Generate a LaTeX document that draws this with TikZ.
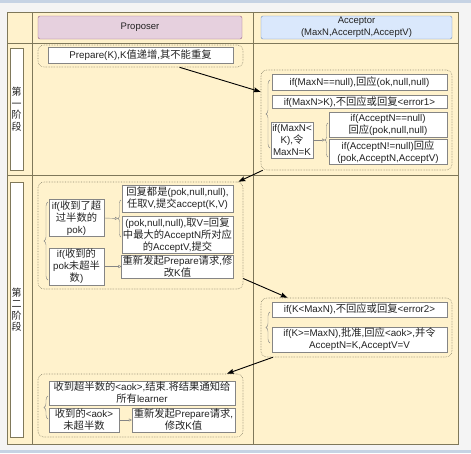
\documentclass[tikz,border=0pt]{standalone}
\usepackage{fontspec}
\setmainfont{Liberation Sans}
\newfontfamily\cjkf[Scale=1.05]{Noto Sans CJK SC}
\newcommand\zh[1]{{\cjkf #1}}
\usetikzlibrary{arrows.meta,decorations.pathreplacing,calc}
\definecolor{tablefill}{HTML}{FFF2CC}
\definecolor{tableline}{HTML}{7F785A}
\definecolor{boxgray}{HTML}{858585}
\definecolor{grpgray}{HTML}{8F8A70}
\definecolor{textc}{HTML}{222222}
\definecolor{pinkfill}{HTML}{E6D0DE}
\definecolor{pinkline}{HTML}{996185}
\definecolor{bluefill}{HTML}{DAE8FC}
\definecolor{blueline}{HTML}{6C8EBF}
\definecolor{bggray}{HTML}{F4F4F4}
\definecolor{strip}{HTML}{C6D3E4}
\begin{document}
\begin{tikzpicture}[x=1pt,y=-1pt,
  box/.style={draw=boxgray, fill=white, align=center, inner sep=1pt,
    font=\fontsize{9.8}{12}\selectfont, text=textc},
  grp/.style={draw=grpgray, densely dotted, line width=0.6pt, rounded corners=6pt, inner sep=0pt},
  hdr/.style={rounded corners=2pt, align=center, inner sep=1pt,
    font=\fontsize{9.5}{12}\selectfont, text=textc},
  phase/.style={draw=tableline, fill=white, align=center, inner sep=0pt,
    minimum width=13pt, font=\fontsize{9.5}{11.5}\selectfont, text=textc},
  brc/.style={draw=boxgray, decorate, decoration={brace, amplitude=4pt}},
  brcs/.style={draw=boxgray, decorate, decoration={brace, amplitude=3pt}},
  link/.style={draw=boxgray, -{Triangle[open,length=3pt,width=3pt]}},
  flow/.style={draw=black, line width=0.9pt, -{Stealth[length=7pt,width=5pt,inset=1pt]}}]
\useasboundingbox (0,0) rectangle (471,453);
% background
\fill[bggray] (0,0) rectangle (471,453);
\fill[strip] (0,0) rectangle (471,3);
\fill[strip] (0,450) rectangle (471,453);
% table
\draw[tableline, fill=tablefill] (7,12) rectangle (458,444);
\draw[tableline] (32,12) -- (32,444);
\draw[tableline] (253,12) -- (253,444);
\draw[tableline] (7,43) -- (458,43);
\draw[tableline] (7,175) -- (458,175);
% headers
\node[hdr, draw=pinkline, fill=pinkfill, minimum width=204pt, minimum height=23pt] (hp) at (140,27.5) {Proposer};
\node[hdr, draw=blueline, fill=bluefill, minimum width=191pt, minimum height=23pt] (ha) at (356.5,27.5) {Acceptor\\(MaxN,AccerptN,AcceptV)};
% phase labels
\node[phase, minimum height=122pt] (ph1) at (16.5,109) {\zh{第}\\\zh{一}\\\zh{阶}\\\zh{段}};
\node[phase, minimum height=255pt] (ph2) at (16.5,309.5) {\zh{第}\\\zh{二}\\\zh{阶}\\\zh{段}};

% ---- phase 1 proposer
\node[grp, minimum width=205pt, minimum height=22pt] (g1) at (140.5,56) {};
\node[box, minimum width=185pt, minimum height=16pt] (prep) at (140.5,55) {Prepare(K),K\zh{值递增},\zh{其不能重复}};

% ---- phase 1 acceptor
\node[grp, minimum width=191pt, minimum height=100pt] (g2) at (356.5,120) {};
\node[box, minimum width=175pt, minimum height=16pt] (a1) at (359.5,82) {if(MaxN==null),\zh{回应}(ok,null,null)};
\node[box, minimum width=175pt, minimum height=13pt] (a2) at (359.5,102) {if(MaxN>K),\zh{不回应或回复}<error1>};
\node[box, minimum width=42pt, minimum height=36pt] (a3) at (292,140) {if(MaxN<\\K),\zh{令}\\MaxN=K};
\node[box, minimum width=118pt, minimum height=25pt] (a4) at (388,124.5) {if(AcceptN==null)\\\zh{回应}(pok,null,null)};
\node[box, minimum width=118pt, minimum height=24pt] (a5) at (388,152) {if(AcceptN!=null)\zh{回应}\\(pok,AcceptN,AcceptV)};
\draw[brc] (270,148) -- (270,80);
\draw[brcs] (328,157) -- (328,123);
\coordinate (b2) at (325,140);
\draw[link] (a3.east) -- (b2);

% ---- phase 2 proposer
\node[grp, minimum width=205pt, minimum height=107pt] (g3) at (140.5,235.5) {};
\node[box, minimum width=55pt, minimum height=34pt] (c1) at (76.5,218) {if(\zh{收到了超}\\\zh{过半数的}\\pok)};
\node[box, minimum width=55pt, minimum height=33pt] (c2) at (76.5,266.5) {if(\zh{收到的}\\pok\zh{未超半}\\\zh{数})};
\node[box, minimum width=111pt, minimum height=27pt] (r1) at (177.5,198.5) {\zh{回复都是}(pok,null,null),\\\zh{任取}V,\zh{提交}accept(K,V)};
\node[box, minimum width=111pt, minimum height=34pt] (r2) at (177.5,235) {(pok,null,null),\zh{取}V=\zh{回复}\\\zh{中最大的}AcceptN\zh{所对应}\\\zh{的}AcceptV,\zh{提交}};
\node[box, minimum width=111pt, minimum height=23pt] (r3) at (177.5,266.5) {\zh{重新发起}Prepare\zh{请求},\zh{修}\\\zh{改}K\zh{值}};
\draw[brc] (48,280) -- (48,202);
\draw[brcs] (121,237) -- (121,200);
\coordinate (b3) at (118,218.5);
\draw[link] (c1.east) -- (b3);
\draw[link] (c2.east) -- (r3.west);

% ---- phase 2 acceptor
\node[grp, minimum width=191pt, minimum height=59pt] (g4) at (356.5,327.5) {};
\node[box, minimum width=175pt, minimum height=15pt] (e2) at (359.5,309.5) {if(K<MaxN),\zh{不回应或回复}<error2>};
\node[box, minimum width=175pt, minimum height=25pt] (ok) at (359.5,339.5) {if(K>=MaxN),\zh{批准},\zh{回应}<aok>,\zh{并令}\\AcceptN=K,AcceptV=V};
\draw[brc] (270,343) -- (270,312);

% ---- final proposer
\node[grp, minimum width=205pt, minimum height=63pt] (g5) at (140.5,405.5) {};
\node[box, minimum width=186pt, minimum height=24pt] (f1) at (142,393) {\zh{收到超半数的}<aok>,\zh{结束}.\zh{将结果通知给}\\\zh{所有}learner};
\node[box, minimum width=70pt, minimum height=24pt] (f2) at (84,420) {\zh{收到的}<aok>\\\zh{未超半数}};
\node[box, minimum width=103pt, minimum height=24pt] (f3) at (183.5,420) {\zh{重新发起}Prepare\zh{请求},\\\zh{修改}K\zh{值}};
\draw[brc] (48,419) -- (48,396);
\draw[link] (f2.east) -- (f3.west);

% ---- flow arrows
\draw[flow] ($(g1.south west)!0.69!(g1.south east)$) -- ($(g2.north west)!0.22!(g2.south west)$);
\draw[flow] ($(g2.south west)+(2,0)$) -- ($(g3.north east)+(-5,0)$);
\draw[flow] ($(g3.north east)!0.90!(g3.south east)$) -- ($(g4.north west)!0.14!(g4.north east)$);
\draw[flow] ($(g4.south west)!0.063!(g4.south east)$) -- ($(g5.north west)!0.92!(g5.north east)$);
\end{tikzpicture}
\end{document}
